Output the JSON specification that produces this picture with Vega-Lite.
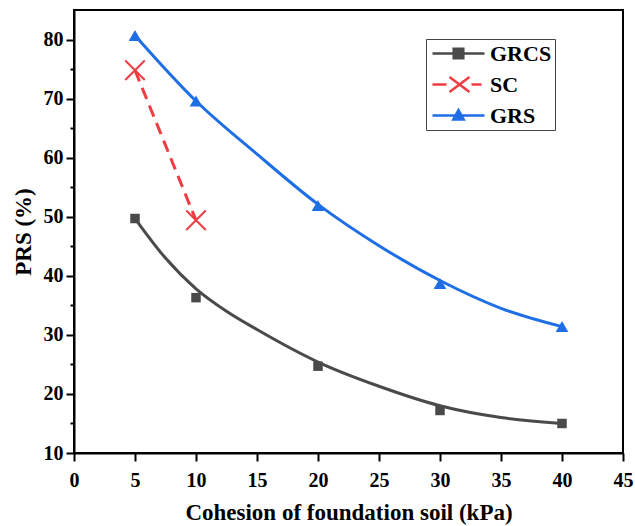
{
  "$schema": "https://vega.github.io/schema/vega-lite/v6.json",
  "width": 549,
  "height": 443,
  "autosize": {"type": "none"},
  "padding": {"left": 74, "top": 10, "right": 12, "bottom": 73},
  "background": "white",
  "config": {
    "view": {"stroke": "black", "strokeWidth": 2},
    "font": "Liberation Serif",
    "axis": {
      "labelFont": "Liberation Serif",
      "labelFontWeight": "bold",
      "labelFontSize": 20,
      "labelColor": "black",
      "titleFont": "Liberation Serif",
      "titleFontWeight": "bold",
      "titleFontSize": 23,
      "titleColor": "black",
      "domainColor": "black",
      "domainWidth": 2,
      "tickColor": "black",
      "tickWidth": 2,
      "grid": false
    }
  },
  "datasets": {
    "obs": [
      {"series": "GRCS", "c": 5, "prs": 49.7},
      {"series": "GRCS", "c": 10, "prs": 36.3},
      {"series": "GRCS", "c": 20, "prs": 24.7},
      {"series": "GRCS", "c": 30, "prs": 17.2},
      {"series": "GRCS", "c": 40, "prs": 15.0},
      {"series": "SC", "c": 5, "prs": 74.8},
      {"series": "SC", "c": 10, "prs": 49.4},
      {"series": "GRS", "c": 5, "prs": 80.7},
      {"series": "GRS", "c": 10, "prs": 69.6},
      {"series": "GRS", "c": 20, "prs": 51.9},
      {"series": "GRS", "c": 30, "prs": 38.7},
      {"series": "GRS", "c": 40, "prs": 31.4}
    ],
    "fit": [
      {"series": "GRCS", "c": 5, "prs": 49.7},
      {"series": "GRCS", "c": 7.5, "prs": 43.0},
      {"series": "GRCS", "c": 10, "prs": 37.8},
      {"series": "GRCS", "c": 12.5, "prs": 34.0},
      {"series": "GRCS", "c": 15, "prs": 30.9},
      {"series": "GRCS", "c": 20, "prs": 25.4},
      {"series": "GRCS", "c": 25, "prs": 21.3},
      {"series": "GRCS", "c": 30, "prs": 18.0},
      {"series": "GRCS", "c": 35, "prs": 16.0},
      {"series": "GRCS", "c": 40, "prs": 15.0},
      {"series": "GRS", "c": 5, "prs": 80.7},
      {"series": "GRS", "c": 10, "prs": 69.6},
      {"series": "GRS", "c": 15, "prs": 60.6},
      {"series": "GRS", "c": 20, "prs": 52.1},
      {"series": "GRS", "c": 25, "prs": 45.1},
      {"series": "GRS", "c": 30, "prs": 39.2},
      {"series": "GRS", "c": 35, "prs": 34.5},
      {"series": "GRS", "c": 40, "prs": 31.4}
    ]
  },
  "encoding": {
    "x": {
      "field": "c", "type": "quantitative",
      "scale": {"domain": [0, 45], "nice": false},
      "axis": {
        "title": "Cohesion of foundation soil (kPa)",
        "values": [0, 5, 10, 15, 20, 25, 30, 35, 40, 45],
        "tickSize": 8, "labelPadding": 9, "titlePadding": 11, "labelFlush": false
      }
    },
    "y": {
      "field": "prs", "type": "quantitative",
      "scale": {"domain": [10, 85], "nice": false, "zero": false},
      "axis": {
        "title": "PRS (%)",
        "values": [10, 15, 20, 25, 30, 35, 40, 45, 50, 55, 60, 65, 70, 75, 80],
        "labelExpr": "datum.value % 10 === 0 ? datum.label : ''",
        "tickSize": {"condition": {"test": "datum.value % 10 !== 0", "value": 4}, "value": 8},
        "labelPadding": 3, "titlePadding": 8, "labelFlush": false
      }
    },
    "color": {
      "field": "series", "type": "nominal",
      "scale": {"domain": ["GRCS", "SC", "GRS"], "range": ["#4a4a4a", "#f03c42", "#1e6fe6"]},
      "legend": {
        "title": null,
        "orient": "none",
        "legendX": 352,
        "legendY": 29,
        "strokeColor": "#444",
        "fillColor": "white",
        "padding": 3,
        "labelFont": "Liberation Serif",
        "labelFontWeight": "bold",
        "labelFontSize": 22,
        "labelColor": "black",
        "labelOffset": 38,
        "rowPadding": 7,
        "symbolSize": 400,
        "symbolStrokeWidth": 2.5,
        "encode": {
          "symbols": {
            "update": {
              "shape": {"signal": "datum.value === 'GRCS' ? 'M-0.8,0H4.4M1.32,-0.48H2.28V0.48H1.32Z' : datum.value === 'SC' ? 'M-0.8,0H0.6M3.1,0H4.1M0.9,-0.75L2.9,0.75M0.9,0.75L2.9,-0.75' : 'M-0.8,0H4.4M1.8,-0.55L2.32,0.4H1.28Z'"},
              "fill": {"signal": "scale('color', datum.value)"},
              "stroke": {"signal": "scale('color', datum.value)"},
              "opacity": {"value": 1}
            }
          }
        }
      }
    }
  },
  "layer": [
    {
      "data": {"name": "fit"},
      "mark": {"type": "line", "strokeWidth": 3, "interpolate": "monotone"}
    },
    {
      "data": {"name": "obs"},
      "transform": [{"filter": "datum.series === 'SC'"}],
      "mark": {"type": "line", "strokeWidth": 3, "strokeDash": [12, 7]}
    },
    {
      "data": {"name": "obs"},
      "transform": [{"filter": "datum.series !== 'SC'"}],
      "mark": {"type": "point", "filled": true, "opacity": 1},
      "encoding": {
        "shape": {"field": "series", "type": "nominal", "scale": {"domain": ["GRCS", "GRS"], "range": ["square", "triangle-up"]}, "legend": null},
        "size": {"field": "series", "type": "nominal", "scale": {"domain": ["GRCS", "GRS"], "range": [90, 160]}, "legend": null}
      }
    },
    {
      "data": {"name": "obs"},
      "transform": [{"filter": "datum.series === 'SC'"}],
      "mark": {"type": "point", "filled": false, "opacity": 1, "shape": "M-1,-1L1,1M-1,1L1,-1", "size": 380, "strokeWidth": 2}
    }
  ]
}
